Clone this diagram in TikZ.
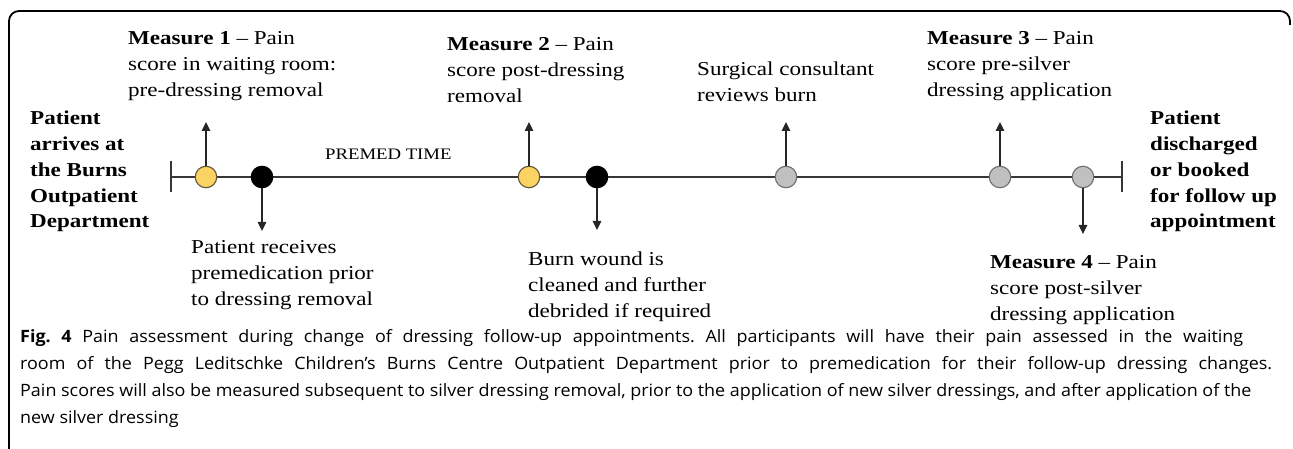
\documentclass[tikz,border=0pt]{standalone}
\usepackage{fontspec}
\setmainfont{Liberation Serif}[FakeStretch=1.17]
\newfontfamily\capfont{Open Sans}[FakeStretch=1.055]
\usetikzlibrary{arrows.meta}
\definecolor{yel}{RGB}{251,211,98}
\definecolor{yelO}{RGB}{95,85,60}
\definecolor{grayF}{RGB}{192,192,192}
\definecolor{grayO}{RGB}{110,110,110}
\definecolor{lineC}{RGB}{55,55,55}
\begin{document}
\frenchspacing
\begin{tikzpicture}[x=1pt,y=-1pt,
  lbl/.style={anchor=base west, align=left, inner sep=0pt, font=\fontsize{19.7}{26}\selectfont},
  blbl/.style={anchor=base west, align=left, inner sep=0pt, font=\fontsize{19.7}{26}\selectfont\bfseries},
  ev/.style={circle, minimum size=21.5pt, inner sep=0pt, line width=1.1pt},
  evY/.style={ev, fill=yel, draw=yelO},
  evK/.style={ev, fill=black, draw=black},
  evG/.style={ev, fill=grayF, draw=grayO},
  tl/.style={draw=lineC, line width=1.3pt},
  arr/.style={draw=black!85, line width=1.2pt, -{Triangle[width=8.5pt,length=9pt]}},
  frame/.style={draw=black, line width=1.8pt, rounded corners=10pt}
]
\useasboundingbox (0,0) rectangle (1293,449);
% frame
\draw[frame] (9,452) -- (9,11) -- (1290,11) -- (1290,25);

% timeline
\coordinate (tL) at (171,177);
\coordinate (tR) at (1122,177);
\draw[tl] (tL) -- (tR);
\draw[tl] ([yshift=-15.5pt]tL) -- ([yshift=15.5pt]tL);
\draw[tl] ([yshift=-15.5pt]tR) -- ([yshift=15.5pt]tR);

% events
\node[evY] (e1) at (206,177) {};
\node[evK] (e2) at (262,177) {};
\node[evY] (e3) at (529,177) {};
\node[evK] (e4) at (597,177) {};
\node[evG] (e5) at (786,177) {};
\node[evG] (e6) at (1000,177) {};
\node[evG] (e7) at (1083,177) {};

% arrow ends
\coordinate (u1) at (206,122);
\coordinate (d2) at (262,231);
\coordinate (u3) at (529,122);
\coordinate (d4) at (597,230);
\coordinate (u5) at (786,122);
\coordinate (u6) at (1000,122);
\coordinate (d7) at (1083,234);
\draw[arr] (e1.north) -- (u1);
\draw[arr] (e2.south) -- (d2);
\draw[arr] (e3.north) -- (u3);
\draw[arr] (e4.south) -- (d4);
\draw[arr] (e5.north) -- (u5);
\draw[arr] (e6.north) -- (u6);
\draw[arr] (e7.south) -- (d7);

% labels (anchor = baseline of the last line)
\node[blbl] (start) at (30,228) {Patient\\arrives at\\the Burns\\Outpatient\\Department};
\node[blbl] (end) at (1150,228) {Patient\\discharged\\or booked\\for follow up\\appointment};
\node[lbl] (t1) at (128,97) {\textbf{Measure 1} -- Pain\\score in waiting room:\\pre-dressing removal};
\node[lbl] (t2) at (191,305) {Patient receives\\premedication prior\\to dressing removal};
\node[lbl] (t3) at (447,103) {\textbf{Measure 2} -- Pain\\score post-dressing\\removal};
\node[lbl] (t4) at (528,317) {Burn wound is\\cleaned and further\\debrided if required};
\node[lbl] (t5) at (697,102) {Surgical consultant\\reviews burn};
\node[lbl] (t6) at (927,97) {\textbf{Measure 3} -- Pain\\score pre-silver\\dressing application};
\node[lbl] (t7) at (990,320) {\textbf{Measure 4} -- Pain\\score post-silver\\dressing application};
\node[anchor=base west, inner sep=0pt, font=\fontsize{16}{18}\selectfont] (pm) at (325,160) {PREMED TIME};

% caption
\node[anchor=base west, align=left, inner sep=0pt, font=\capfont\fontsize{17}{27}\selectfont] (cap) at (20,423)
{\makebox[1223pt][s]{\textbf{Fig. 4} Pain assessment during change of dressing follow-up appointments. All participants will have their pain assessed in the waiting}\\
\makebox[1252pt][s]{room of the Pegg Leditschke Children’s Burns Centre Outpatient Department prior to premedication for their follow-up dressing changes.}\\
Pain scores will also be measured subsequent to silver dressing removal, prior to the application of new silver dressings, and after application of the\\
new silver dressing};
\end{tikzpicture}
\end{document}
